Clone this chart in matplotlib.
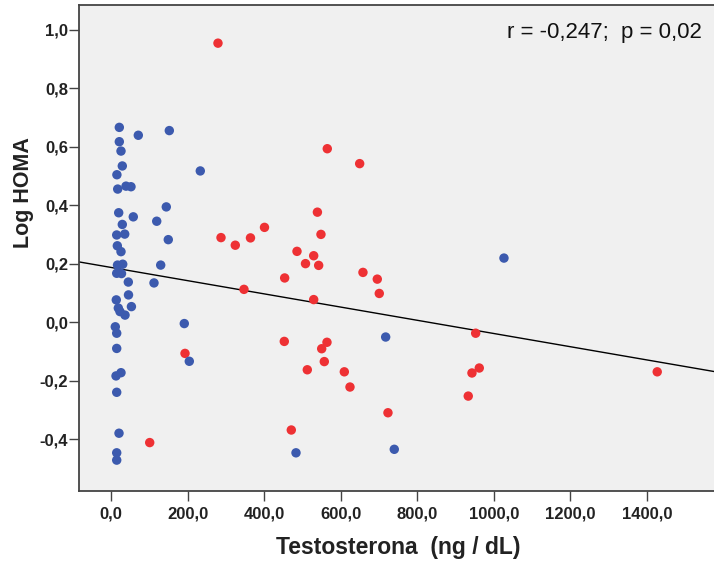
import matplotlib
matplotlib.use('Agg')
import matplotlib.pyplot as plt
import numpy as np

# grupo azul
blue_x = [21.7, 71.3, 152.3, 21.7, 26.1, 29.5, 15.4, 233.2, 17.5, 39.2, 52.2,
          20.1, 58.2, 144.4, 29.5, 119.4, 14.9, 35.8, 16.5, 26.1, 149.6,
          17.0, 30.6, 14.9, 27.4, 129.8, 45.2, 112.3, 45.7, 13.8, 53.3,
          23.5, 36.6, 19.1, 11.2, 14.9, 191.4, 14.9, 204.5, 13.1, 26.1,
          14.9, 20.9, 14.9, 14.9, 717.4, 483.2, 739.9, 1026.4]
blue_y = [0.666, 0.639, 0.655, 0.617, 0.585, 0.534, 0.504, 0.517, 0.455, 0.465, 0.463,
          0.374, 0.360, 0.394, 0.334, 0.345, 0.298, 0.301, 0.261, 0.241, 0.282,
          0.195, 0.198, 0.167, 0.166, 0.195, 0.137, 0.134, 0.093, 0.076, 0.053,
          0.036, 0.024, 0.048, -0.016, -0.038, -0.005, -0.090, -0.134, -0.184, -0.173,
          -0.240, -0.380, -0.447, -0.472, -0.051, -0.447, -0.435, 0.219]

# grupo rojo
red_x = [279.4, 564.9, 649.5, 539.1, 287.3, 324.6, 364.3, 400.9, 548.4, 485.8,
         529.4, 508.0, 542.4, 658.1, 695.5, 453.6, 700.7, 347.3, 529.4, 193.3,
         101.1, 452.6, 564.1, 550.3, 557.1, 512.7, 609.4, 624.2, 723.4, 470.9,
         952.5, 961.9, 942.8, 933.1, 1426.7]
red_y = [0.954, 0.593, 0.542, 0.376, 0.289, 0.263, 0.288, 0.324, 0.300, 0.242,
         0.227, 0.200, 0.194, 0.170, 0.147, 0.151, 0.098, 0.112, 0.077, -0.107,
         -0.412, -0.066, -0.069, -0.091, -0.135, -0.163, -0.170, -0.222, -0.310, -0.369,
         -0.038, -0.157, -0.174, -0.253, -0.170]

# recta de regresion
intercept = 0.187
slope = -0.000226

x_ticks = [0, 200, 400, 600, 800, 1000, 1200, 1400]
y_ticks = [-0.4, -0.2, 0.0, 0.2, 0.4, 0.6, 0.8, 1.0]

plt.rcParams['font.family'] = ['Liberation Sans', 'DejaVu Sans']

fig = plt.figure(figsize=(7.14, 5.62), dpi=100)
ax = fig.add_axes([79 / 714, 1 - 491 / 562, 1 - 79 / 714, (491 - 5) / 562])
ax.set_facecolor('#f0f0f0')

xmin, xmax = -83.6, 1575
ax.set_xlim(xmin, xmax)
ax.set_ylim(-0.5776, 1.0845)

line_x = np.array([xmin, xmax])
ax.plot(line_x, intercept + slope * line_x, color='black', lw=1.0, zorder=2)

ax.scatter(red_x, red_y, s=46, color='#ee3134', edgecolors='none', zorder=3)
ax.scatter(blue_x, blue_y, s=46, color='#3c5aae', edgecolors='none', zorder=4)

ax.set_xticks(x_ticks)
ax.set_xticklabels([f'{v:.1f}'.replace('.', ',') for v in x_ticks])
ax.set_yticks(y_ticks)
ax.set_yticklabels([f'{v:.1f}'.replace('.', ',') for v in y_ticks])

for lab in ax.get_xticklabels() + ax.get_yticklabels():
    lab.set_fontweight('bold')
    lab.set_fontsize(12)
    lab.set_color('#222222')
ax.tick_params(axis='both', length=7, width=1, color='#444444', direction='out')
ax.tick_params(axis='y', pad=1)
ax.tick_params(axis='x', pad=4)

ax.spines['right'].set_visible(False)
for s in ['left', 'bottom', 'top']:
    ax.spines[s].set_color('#444444')
    ax.spines[s].set_linewidth(1.3)

ax.set_xlabel('Testosterona  (ng / dL)', fontsize=16.5, fontweight='bold', color='#222222')
ax.set_ylabel('Log HOMA', fontsize=15.5, fontweight='bold', color='#222222')
ax.xaxis.set_label_coords((398 - 79) / 635, -(536 - 491) / 486)
ax.yaxis.set_label_coords(-(79 - 34) / 635, (491 - 193) / 486)

ax.text(0.981, 0.944, 'r = -0,247;  p = 0,02', transform=ax.transAxes,
        ha='right', va='center', fontsize=16, color='#111111')

fig.savefig('out.png', dpi=100)
